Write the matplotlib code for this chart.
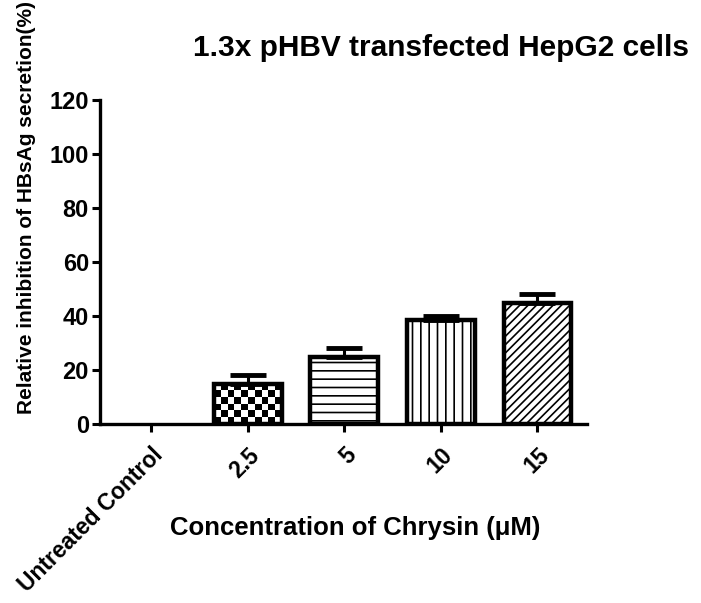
import numpy as np
import matplotlib
matplotlib.use("Agg")
import matplotlib.pyplot as plt

# data
categories = ["Untreated Control", "2.5", "5", "10", "15"]
values = [0, 15, 25, 38.5, 45]
errors = [0, 3, 3, 1.5, 3]
hatches = [None, "checker", "--", "||", "////"]

plt.rcParams["font.family"] = ["Liberation Sans", "DejaVu Sans"]
plt.rcParams["font.weight"] = "bold"
plt.rcParams["hatch.linewidth"] = 1.2

fig = plt.figure(figsize=(7.01, 6.03), dpi=100)
ax = fig.add_axes([0.1427, 0.2968, 0.694, 0.5372])

x = np.arange(len(categories))
width = 0.70

bars = ax.bar(x, values, width=width, color="white", edgecolor="black",
              linewidth=3.2, zorder=2)

for bar, h in zip(bars, hatches):
    if bar.get_height() == 0:
        # a zero bar leaves no visible outline in the original
        bar.set_linewidth(0)
    if h is None:
        continue
    if h == "checker":
        # checkerboard fill, clipped to the bar, drawn under the outline
        bar.set_facecolor("none")
        x0, w = bar.get_x(), bar.get_width()
        top = bar.get_height()
        board = np.indices((6, 10)).sum(axis=0) % 2
        im = ax.imshow(board, cmap="gray", extent=(x0, x0 + w, 0, top),
                       origin="lower", aspect="auto", interpolation="nearest",
                       zorder=1.9)
        im.set_clip_path(bar)
    else:
        bar.set_hatch(h)

# upward-only error bars with caps
ax.errorbar(x[1:], values[1:], yerr=[np.zeros(len(x) - 1), errors[1:]],
            fmt="none", ecolor="black", elinewidth=2.2, capsize=13,
            capthick=3.5, zorder=3)

ax.set_xlim(-0.53, 4.51)
ax.set_ylim(0, 120)
ax.set_yticks([0, 20, 40, 60, 80, 100, 120])
ax.set_xticks(x)
ax.set_xticklabels(categories, rotation=45, ha="right", rotation_mode="anchor",
                   fontsize=16.5, fontweight="bold")
for lab in ax.get_yticklabels():
    lab.set_fontsize(17)
    lab.set_fontweight("bold")

for s in ["top", "right"]:
    ax.spines[s].set_visible(False)
for s in ["left", "bottom"]:
    ax.spines[s].set_linewidth(2.4)
ax.tick_params(axis="both", direction="out", length=6, width=2.2, pad=2)
ax.tick_params(axis="x", pad=8)

fig.text(441 / 701, 1 - 48 / 603, "1.3x pHBV transfected HepG2 cells",
         ha="center", va="center", fontsize=21.5, fontweight="bold")
fig.text(27 / 701, 1 - 207 / 603, "Relative inhibition of HBsAg secretion(%)",
         ha="center", va="center", rotation=90, fontsize=15, fontweight="bold")
fig.text(355 / 701, 1 - 528 / 603, "Concentration of Chrysin (\u03bcM)",
         ha="center", va="center", fontsize=18.5, fontweight="bold")

fig.savefig("out.png", dpi=100)
